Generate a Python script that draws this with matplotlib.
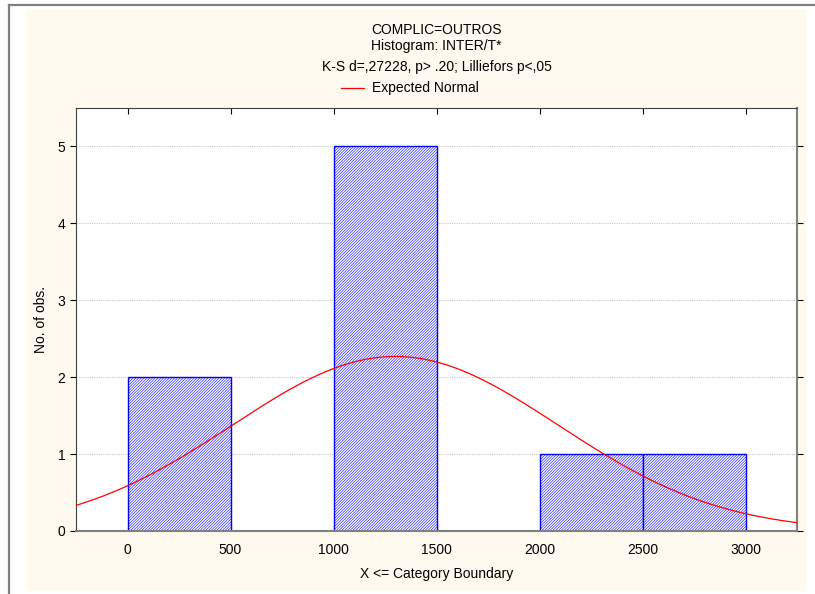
import numpy as np
import matplotlib.pyplot as plt
from matplotlib.patches import Rectangle
from matplotlib.lines import Line2D

plt.rcParams['font.family'] = ['Liberation Sans', 'DejaVu Sans']
plt.rcParams['hatch.linewidth'] = 0.4

# histogram: bin edges and counts
bin_edges = [0, 500, 1000, 1500, 2000, 2500, 3000]
counts = [2, 0, 5, 0, 1, 1]
n_obs = 9
# fitted normal
mean = 1300
sd = 791

x_ticks = [0, 500, 1000, 1500, 2000, 2500, 3000]
y_ticks = [0, 1, 2, 3, 4, 5]

fig = plt.figure(figsize=(8.15, 5.94), dpi=100)
fig.patch.set_facecolor('white')

# cream panel and outer gray frame
fig.add_artist(Rectangle((26 / 815, 3 / 594), 781 / 815, 582 / 594,
                         transform=fig.transFigure, facecolor='#fefaef',
                         edgecolor='none', zorder=-10))
fig.add_artist(Line2D([9 / 815, 9 / 815], [0, 589 / 594], color='#808080', lw=1.6,
                      transform=fig.transFigure, zorder=-5))
fig.add_artist(Line2D([9 / 815, 1], [589 / 594, 589 / 594], color='#808080', lw=1.6,
                      transform=fig.transFigure, zorder=-5))

ax = fig.add_axes([76 / 815, 63 / 594, 721 / 815, 423 / 594])
ax.set_facecolor('white')

widths = np.diff(bin_edges)
ax.bar(bin_edges[:-1], counts, width=widths, align='edge', facecolor='white',
       edgecolor='#0000ff', hatch='/' * 12, linewidth=1.0, zorder=2)

xs = np.linspace(-250, 3250, 400)
expected = n_obs * 500 / (sd * np.sqrt(2 * np.pi)) * np.exp(-(xs - mean) ** 2 / (2 * sd ** 2))
ax.plot(xs, expected, color='#ff0000', lw=0.9, zorder=3)

ax.set_xlim(-250, 3250)
ax.set_ylim(0, 5.5)
ax.set_xticks(x_ticks)
ax.set_yticks(y_ticks)
ax.yaxis.grid(True, color='#c8c8c8', linestyle=(0, (1, 1)), lw=0.8)
ax.set_axisbelow(True)
ax.tick_params(axis='y', direction='out', length=4, labelsize=10, right=True)
ax.tick_params(axis='x', direction='in', length=4, labelsize=10, top=True, pad=9)
for side in ['left', 'top']:
    ax.spines[side].set_color('#404040')
for side in ['right', 'bottom']:
    ax.spines[side].set_color('#808080')
    ax.spines[side].set_linewidth(1.5)

ax.set_xlabel('X <= Category Boundary', fontsize=10, labelpad=7)
ax.set_ylabel('No. of obs.', fontsize=10, labelpad=7)

cx = (76 + 797) / 2 / 815
fig.text(cx, 1 - 30 / 594, 'COMPLIC=OUTROS', ha='center', va='center', fontsize=10)
fig.text(cx, 1 - 46 / 594, 'Histogram: INTER/T*', ha='center', va='center', fontsize=10)
fig.text(cx, 1 - 67 / 594, 'K-S d=,27228, p> .20; Lilliefors p<,05', ha='center',
         va='center', fontsize=10)
fig.add_artist(Line2D([341 / 815, 364 / 815], [1 - 88 / 594, 1 - 88 / 594],
                      color='#ff0000', lw=0.9, transform=fig.transFigure))
fig.text(372 / 815, 1 - 88 / 594, 'Expected Normal', ha='left', va='center', fontsize=10)

fig.savefig('out.png', dpi=100)
